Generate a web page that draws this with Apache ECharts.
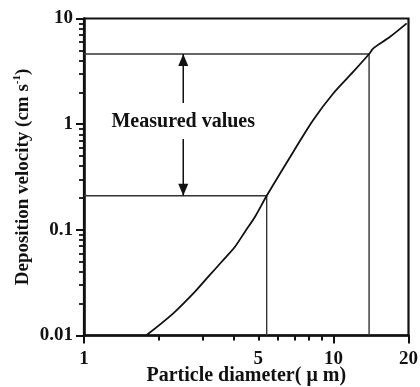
<!DOCTYPE html>
<html>
<head>
<meta charset="utf-8">
<script src="https://cdn.jsdelivr.net/npm/echarts@6/dist/echarts.min.js"></script>
<style>
  html, body { margin: 0; padding: 0; background: #fff; }
  #chart { width: 420px; height: 387px; }
</style>
</head>
<body>
<div id="chart"></div>
<script>
// Deposition velocity against particle diameter (log–log)
const curveDiameter = [1.784, 2.28, 2.787, 3.15, 3.565, 4.03, 4.42, 4.85, 5.40, 6.91, 8.30, 10.0, 12.02, 13.9, 14.45, 16.87, 19.67];
const curveVelocity = [0.0101, 0.0162, 0.026, 0.036, 0.0499, 0.0692, 0.096, 0.133, 0.21, 0.549, 1.095, 1.96, 3.14, 4.61, 5.22, 6.72, 9.0];

// Measured range: lower and upper bound (diameter, velocity)
const lowerBound = [5.40, 0.21];
const upperBound = [13.9, 4.61];

// Arrow column and its shaft ends
const arrowDiameter = 2.5;
const arrowShaftTop = 1.585;
const arrowShaftBottom = 0.724;
const noteVelocity = 1.06;
const noteText = 'Measured values';

// Axis ranges, tick positions and labels
const xRange = [1, 20];
const yRange = [0.01, 10];
const xMajorTicks = [1, 10, 20];
const xMinorTicks = [2, 3, 4, 5, 6, 7, 8, 9];
const xTickLabels = [1, 5, 10, 20];
const yMajorTicks = [0.01, 0.1, 1, 10];
const yMinorTicks = [0.02, 0.03, 0.04, 0.05, 0.06, 0.07, 0.08, 0.09,
                     0.2, 0.3, 0.4, 0.5, 0.6, 0.7, 0.8, 0.9,
                     2, 3, 4, 5, 6, 7, 8, 9];

const serif = '"Liberation Serif", "Times New Roman", serif';
const ink = '#111';
const fmt = v => String(+(+v).toPrecision(3));

const chart = echarts.init(document.getElementById('chart'));

// Tick-only companion axis: a linear axis over log10 of the range, so its
// ticks land exactly where the log axis puts the same values.
function tickAxis(range, ticks, position, length, width) {
  return {
    type: 'value', gridIndex: 0, position: position,
    min: Math.log10(range[0]), max: Math.log10(range[1]),
    axisLine: { show: false, onZero: false },
    axisLabel: { show: false },
    splitLine: { show: false },
    minorTick: { show: false },
    axisTick: {
      show: true, inside: false, length: length,
      customValues: ticks.map(v => Math.log10(v)),
      lineStyle: { color: ink, width: width }
    },
    silent: true
  };
}

const option = {
  animation: false,
  backgroundColor: '#fff',
  grid: {
    left: 84, right: 11.5, top: 18.5, bottom: 51.5,
    outerBoundsMode: 'none', containLabel: false,
    show: true, borderColor: ink, borderWidth: 2.2, backgroundColor: 'transparent'
  },
  xAxis: [
    {
      type: 'log', logBase: 10, min: xRange[0], max: xRange[1], gridIndex: 0,
      position: 'bottom',
      name: 'Particle diameter( μ m)',
      nameLocation: 'middle',
      nameGap: 30,
      nameMoveOverlap: false,
      nameTextStyle: { fontFamily: serif, fontWeight: 'bold', fontSize: 20, color: ink },
      splitLine: { show: false }, minorSplitLine: { show: false },
      axisLine: { show: true, onZero: false, lineStyle: { color: ink, width: 2.5 } },
      axisTick: { show: false },
      axisLabel: {
        show: true, customValues: xTickLabels, margin: 14, formatter: fmt,
        fontFamily: serif, fontWeight: 'bold', fontSize: 19, color: ink
      }
    },
    tickAxis(xRange, xMajorTicks, 'bottom', 8, 2),
    tickAxis(xRange, xMinorTicks, 'bottom', 5, 2)
  ],
  yAxis: [
    {
      type: 'log', logBase: 10, min: yRange[0], max: yRange[1], gridIndex: 0,
      position: 'left',
      name: '{a|Deposition velocity (cm s}{s|-1}{a|)}',
      nameLocation: 'middle',
      nameGap: 50,
      nameRotate: 90,
      nameMoveOverlap: false,
      nameTextStyle: {
        color: ink,
        rich: {
          a: { fontFamily: serif, fontWeight: 'bold', fontSize: 19, color: ink, lineHeight: 22 },
          s: { fontFamily: serif, fontWeight: 'bold', fontSize: 11, color: ink, verticalAlign: 'top', lineHeight: 22 }
        }
      },
      splitLine: { show: false }, minorSplitLine: { show: false },
      axisLine: { show: true, onZero: false, lineStyle: { color: ink, width: 2.6 } },
      axisTick: { show: false },
      axisLabel: {
        show: true, customValues: yMajorTicks, margin: 11, formatter: fmt,
        fontFamily: serif, fontWeight: 'bold', fontSize: 19, color: ink
      }
    },
    tickAxis(yRange, yMajorTicks, 'left', 8, 2),
    tickAxis(yRange, yMinorTicks, 'left', 5, 1.8)
  ],
  series: [
    {
      type: 'line', xAxisIndex: 0, yAxisIndex: 0,
      data: curveDiameter.map((d, i) => [d, curveVelocity[i]]),
      smooth: 0.3, symbol: 'none',
      lineStyle: { color: ink, width: 1.8 }, z: 5
    },
    {
      type: 'line', xAxisIndex: 0, yAxisIndex: 0,
      data: [[xRange[0], lowerBound[1]], lowerBound, [lowerBound[0], yRange[0]]],
      symbol: 'none', lineStyle: { color: '#333', width: 1.4 }
    },
    {
      type: 'line', xAxisIndex: 0, yAxisIndex: 0,
      data: [[xRange[0], upperBound[1]], upperBound, [upperBound[0], yRange[0]]],
      symbol: 'none', lineStyle: { color: '#333', width: 1.4 }
    },
    {
      type: 'line', xAxisIndex: 0, yAxisIndex: 0,
      symbol: 'none', showSymbol: true,
      data: [
        [arrowDiameter, arrowShaftTop],
        { value: [arrowDiameter, upperBound[1]], symbol: 'triangle', symbolSize: [10, 12], symbolOffset: [0, 6],
          itemStyle: { color: ink, borderWidth: 0 } }
      ],
      lineStyle: { color: ink, width: 1.5 }
    },
    {
      type: 'line', xAxisIndex: 0, yAxisIndex: 0,
      symbol: 'none', showSymbol: true,
      data: [
        [arrowDiameter, arrowShaftBottom],
        { value: [arrowDiameter, lowerBound[1]], symbol: 'triangle', symbolSize: [10, 12], symbolRotate: 180, symbolOffset: [0, -6],
          itemStyle: { color: ink, borderWidth: 0 } }
      ],
      lineStyle: { color: ink, width: 1.5 }
    },
    {
      type: 'scatter', xAxisIndex: 0, yAxisIndex: 0,
      data: [[arrowDiameter, noteVelocity]],
      symbolSize: 0,
      itemStyle: { opacity: 1 },
      label: {
        show: true, position: 'inside', formatter: noteText,
        fontFamily: serif, fontWeight: 'bold', fontSize: 20, color: ink
      }
    }
  ]
};

chart.setOption(option);
</script>
</body>
</html>
